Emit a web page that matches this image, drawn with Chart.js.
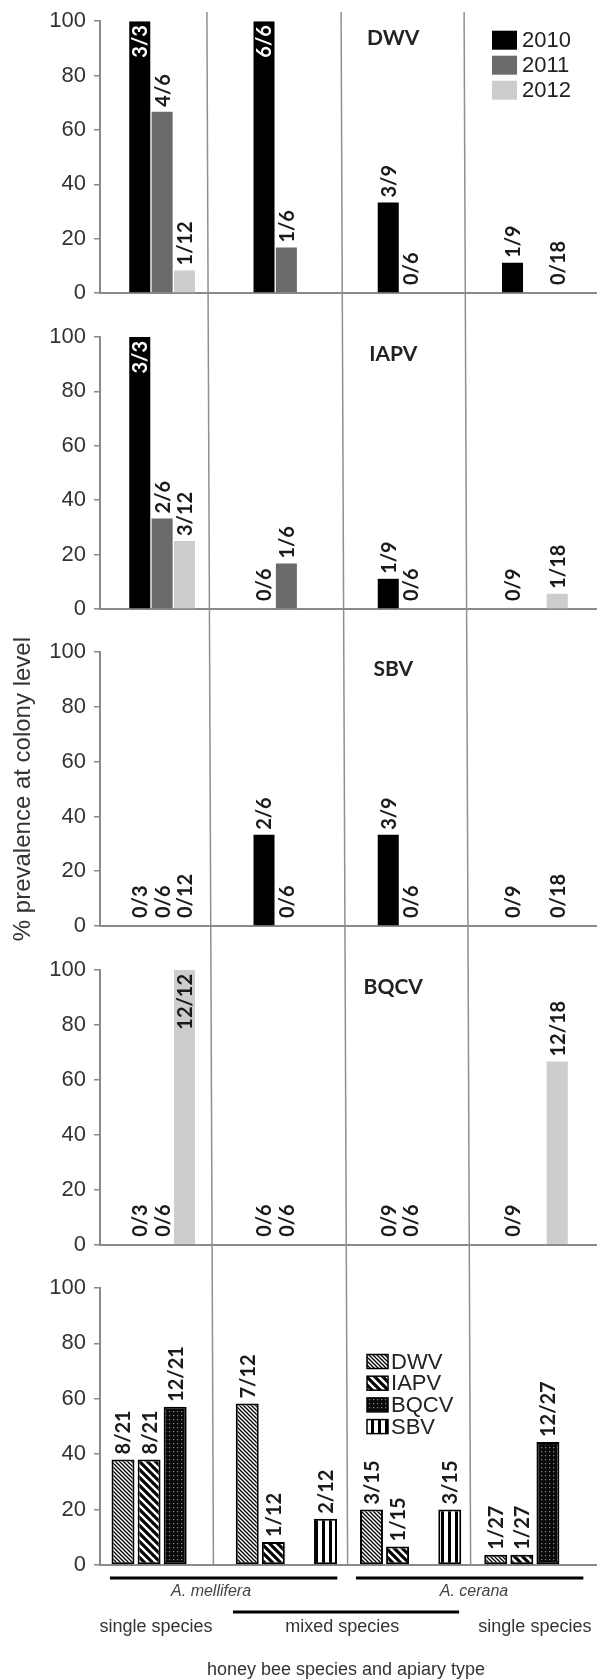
<!DOCTYPE html>
<html><head><meta charset="utf-8">
<script src="https://cdn.jsdelivr.net/npm/chart.js@4.4.1/dist/chart.umd.min.js"></script>
<style>
html,body{margin:0;padding:0;background:#fff;}
#wrap{position:relative;width:597px;height:1680px;overflow:hidden;background:#fff;}
canvas{position:absolute;left:0;}
</style></head><body><div id="wrap"></div>
<script>
// ---------- data ----------
const categories = ['A. mellifera single species','A. mellifera mixed species','A. cerana mixed species','A. cerana single species'];
const years = ['2010','2011','2012'];
const viruses = ['DWV','IAPV','BQCV','SBV'];
const yTicks = [0,20,40,60,80,100];

const dwv2010 = [100,100,33.3,11.1];
const dwv2011 = [66.7,16.7,0,null];
const dwv2012 = [8.3,null,null,0];
const dwvLab2010 = ['3/3','6/6','3/9','1/9'];
const dwvLab2011 = ['4/6','1/6','0/6',null];
const dwvLab2012 = ['1/12',null,null,'0/18'];

const iapv2010 = [100,0,11.1,0];
const iapv2011 = [33.3,16.7,0,null];
const iapv2012 = [25,null,null,5.6];
const iapvLab2010 = ['3/3','0/6','1/9','0/9'];
const iapvLab2011 = ['2/6','1/6','0/6',null];
const iapvLab2012 = ['3/12',null,null,'1/18'];

const sbv2010 = [0,33.3,33.3,0];
const sbv2011 = [0,0,0,null];
const sbv2012 = [0,null,null,0];
const sbvLab2010 = ['0/3','2/6','3/9','0/9'];
const sbvLab2011 = ['0/6','0/6','0/6',null];
const sbvLab2012 = ['0/12',null,null,'0/18'];

const bqcv2010 = [0,0,0,0];
const bqcv2011 = [0,0,0,null];
const bqcv2012 = [100,null,null,66.7];
const bqcvLab2010 = ['0/3','0/6','0/9','0/9'];
const bqcvLab2011 = ['0/6','0/6','0/6',null];
const bqcvLab2012 = ['12/12',null,null,'12/18'];

const allDWV  = [38.1,58.3,20,3.7];
const allIAPV = [38.1,8.3,6.7,3.7];
const allBQCV = [57.1,null,null,44.4];
const allSBV  = [null,16.7,20,null];
const allLabDWV  = ['8/21','7/12','3/15','1/27'];
const allLabIAPV = ['8/21','1/12','1/15','1/27'];
const allLabBQCV = ['12/21',null,null,'12/27'];
const allLabSBV  = [null,'2/12','3/15',null];

const yTitle = '% prevalence at colony level';
const xTitle = 'honey bee species and apiary type';
const speciesLabels = ['A. mellifera','A. cerana'];
const apiaryLabels = ['single species','mixed species','single species'];

// ---------- styling / layout ----------
const TICK_FONT = "'Liberation Sans', Arial, sans-serif";
const LABEL_FONT = "Lato, 'Open Sans', sans-serif";
const AXIS_COL = '#8a8a8a';
const YEAR_COLORS = ['#000000','#6b6b6b','#cdcdcd'];
const DIVIDERS = [0.86, 1.94, 2.93];      // in category-width units from the y axis
const DIV_SLOPE = 0.0042;
const TITLE_U = 2.36;

function pat(type){
  const c=document.createElement('canvas'); const g=c.getContext('2d');
  if(type==='dense'){ const s=4; c.width=c.height=s; g.fillStyle='#fff'; g.fillRect(0,0,s,s);
    g.strokeStyle='#000'; g.lineWidth=1.3; g.beginPath();
    g.moveTo(-1,-1);g.lineTo(s+1,s+1); g.moveTo(-1,s-1);g.lineTo(1,s+1); g.moveTo(s-1,-1);g.lineTo(s+1,1); g.stroke(); }
  else if(type==='wide'){ const s=8; c.width=c.height=s; g.fillStyle='#fff'; g.fillRect(0,0,s,s);
    g.strokeStyle='#000'; g.lineWidth=3.2; g.beginPath();
    g.moveTo(-2,-2);g.lineTo(s+2,s+2); g.moveTo(-2,s-2);g.lineTo(2,s+2); g.moveTo(s-2,-2);g.lineTo(s+2,2); g.stroke(); }
  else if(type==='dots'){ const s=4; c.width=c.height=s; g.fillStyle='#0a0a0a'; g.fillRect(0,0,s,s);
    g.fillStyle='#8a8a8a'; g.fillRect(1,1,1.2,1.2); }
  else if(type==='vert'){ const s=7; c.width=c.height=s; g.fillStyle='#000'; g.fillRect(0,0,s,s);
    g.fillStyle='#fff'; g.fillRect(3,0,4,s); }
  return document.createElement('canvas').getContext('2d').createPattern(c,'repeat');
}
const VIRUS_FILLS = [pat('dense'), pat('wide'), pat('dots'), pat('vert')];

const panels = [
  {title:'DWV', top:0, h:315, pt:21, pb:22, series:[dwv2010,dwv2011,dwv2012], labs:[dwvLab2010,dwvLab2011,dwvLab2012], legend:'years'},
  {title:'IAPV', top:315, h:316, pt:22, pb:22, series:[iapv2010,iapv2011,iapv2012], labs:[iapvLab2010,iapvLab2011,iapvLab2012]},
  {title:'SBV', top:631, h:317, pt:21, pb:22, series:[sbv2010,sbv2011,sbv2012], labs:[sbvLab2010,sbvLab2011,sbvLab2012], ytitle:true},
  {title:'BQCV', top:948, h:318, pt:22, pb:21, series:[bqcv2010,bqcv2011,bqcv2012], labs:[bqcvLab2010,bqcvLab2011,bqcvLab2012]},
  {title:null, top:1266, h:414, pt:22, pb:115, series:[allDWV,allIAPV,allBQCV,allSBV], labs:[allLabDWV,allLabIAPV,allLabBQCV,allLabSBV], legend:'viruses', last:true}
];

function edgeX(chart,u){ return chart.scales.x.getPixelForValue(u-0.5); }

const panelPlugin = {
  id:'panelDeco',
  beforeDatasetsDraw(chart){
    const p = chart.options.plugins.panelDeco.p; const ctx=chart.ctx; const ca=chart.chartArea;
    ctx.save(); ctx.strokeStyle='#8f8f8f'; ctx.lineWidth=1.5;
    const y0 = p.top===0 ? 12 : 0; const y1 = p.last ? ca.bottom : chart.height;
    DIVIDERS.forEach(u=>{ const bx=edgeX(chart,u);
      ctx.beginPath(); ctx.moveTo(bx+DIV_SLOPE*(p.top+y0), y0); ctx.lineTo(bx+DIV_SLOPE*(p.top+y1), y1); ctx.stroke(); });
    ctx.restore();
  },
  afterDatasetsDraw(chart){
    const p = chart.options.plugins.panelDeco.p; const ctx=chart.ctx; const ca=chart.chartArea;
    ctx.save();
    ctx.font = "bold 20px "+LABEL_FONT; ctx.textBaseline='middle';
    chart.data.datasets.forEach((ds,di)=>{
      const meta=chart.getDatasetMeta(di);
      meta.data.forEach((el,i)=>{
        const lab=ds.fracLabels[i]; if(!lab) return; const v=ds.data[i];
        const inside = v!==null && v>90 && !p.last;
        ctx.save();
        if(inside){ ctx.translate(el.x, el.y+4); ctx.rotate(-Math.PI/2); ctx.textAlign='right';
          ctx.fillStyle = di===0 ? '#ffffff' : '#1a1a1a'; }
        else { ctx.translate(el.x, el.y-(v===0?8:5)); ctx.rotate(-Math.PI/2); ctx.textAlign='left'; ctx.fillStyle='#1a1a1a'; }
        ctx.fillText(lab,0,1);
        ctx.restore();
      });
    });
    if(p.title){ ctx.font="bold 21px "+LABEL_FONT; ctx.fillStyle='#222'; ctx.textAlign='center';
      ctx.fillText(p.title, edgeX(chart,TITLE_U), ca.top+17); }
    if(p.legend==='years'){
      const bx=edgeX(chart,3.155);
      years.forEach((y,i)=>{ const cy=ca.top+19+i*25;
        ctx.fillStyle=YEAR_COLORS[i]; ctx.fillRect(bx,cy-9.5,25,19);
        ctx.fillStyle='#222'; ctx.font="22px "+TICK_FONT; ctx.textAlign='left'; ctx.fillText(y,bx+30,cy+1); });
    }
    if(p.legend==='viruses'){
      const bx=edgeX(chart,2.149);
      viruses.forEach((n,i)=>{ const cy=ca.top+73.5+i*21.7;
        ctx.fillStyle=VIRUS_FILLS[i]; ctx.fillRect(bx,cy-7,21,14);
        ctx.strokeStyle='#000'; ctx.lineWidth=1.5; ctx.strokeRect(bx,cy-7,21,14);
        ctx.fillStyle='#222'; ctx.font="22px "+TICK_FONT; ctx.textAlign='left'; ctx.fillText(n,bx+24,cy+1); });
    }
    if(p.last){
      ctx.strokeStyle='#000'; ctx.lineWidth=3;
      const lines=[[0.08,1.91,312],[2.06,3.89,312],[1.07,2.89,346]];
      lines.forEach(l=>{ ctx.beginPath(); ctx.moveTo(edgeX(chart,l[0]),l[2]); ctx.lineTo(edgeX(chart,l[1]),l[2]); ctx.stroke(); });
      ctx.fillStyle='#444'; ctx.textAlign='center';
      ctx.font="italic 16px "+TICK_FONT;
      [0.894,3.01].forEach((u,i)=>ctx.fillText(speciesLabels[i], edgeX(chart,u), 326));
      ctx.font="18px "+TICK_FONT; ctx.fillStyle='#333';
      [0.45,1.95,3.5].forEach((u,i)=>ctx.fillText(apiaryLabels[i], edgeX(chart,u), 361));
      ctx.fillText(xTitle, edgeX(chart,1.98), 404);
    }
    ctx.restore();
  }
};

const wrap=document.getElementById('wrap');
panels.forEach(p=>{
  const cv=document.createElement('canvas'); cv.width=597; cv.height=p.h;
  cv.style.top=p.top+'px'; cv.style.width='597px'; cv.style.height=p.h+'px';
  wrap.appendChild(cv);
  const datasets = p.series.map((s,i)=>{
    if(p.last) return {label:viruses[i], data:s, fracLabels:p.labs[i], backgroundColor:VIRUS_FILLS[i],
      borderColor:'#000', borderWidth:2, borderSkipped:false, categoryPercentage:0.84, barPercentage:0.88};
    return {label:years[i], data:s, fracLabels:p.labs[i], backgroundColor:YEAR_COLORS[i], borderWidth:0,
      categoryPercentage:0.54, barPercentage:0.94};
  });
  new Chart(cv,{
    type:'bar',
    data:{labels:categories, datasets},
    options:{
      responsive:false, animation:false, devicePixelRatio:1,
      layout:{padding:{top:p.pt,bottom:p.pb,left:0,right:0}},
      plugins:{legend:{display:false}, tooltip:{enabled:false}, title:{display:false}, panelDeco:{p}},
      scales:{
        x:{type:'category', offset:true, grid:{display:false,drawTicks:false}, ticks:{display:false},
           border:{display:true,color:AXIS_COL,width:2}, afterFit:s=>{s.height=0;}},
        y:{min:0,max:100,
           afterBuildTicks:s=>{s.ticks=yTicks.map(v=>({value:v}));},
           ticks:{color:'#333',font:{family:TICK_FONT,size:22},padding:8},
           grid:{drawOnChartArea:false,drawTicks:true,tickLength:6,color:AXIS_COL,lineWidth:1.5},
           border:{display:true,color:AXIS_COL,width:2},
           title:{display:!!p.ytitle,text:yTitle,color:'#333',font:{family:TICK_FONT,size:24},padding:{top:9,bottom:0}},
           afterFit:s=>{s.width=100;}}
      }
    },
    plugins:[panelPlugin]
  });
});
</script></body></html>
